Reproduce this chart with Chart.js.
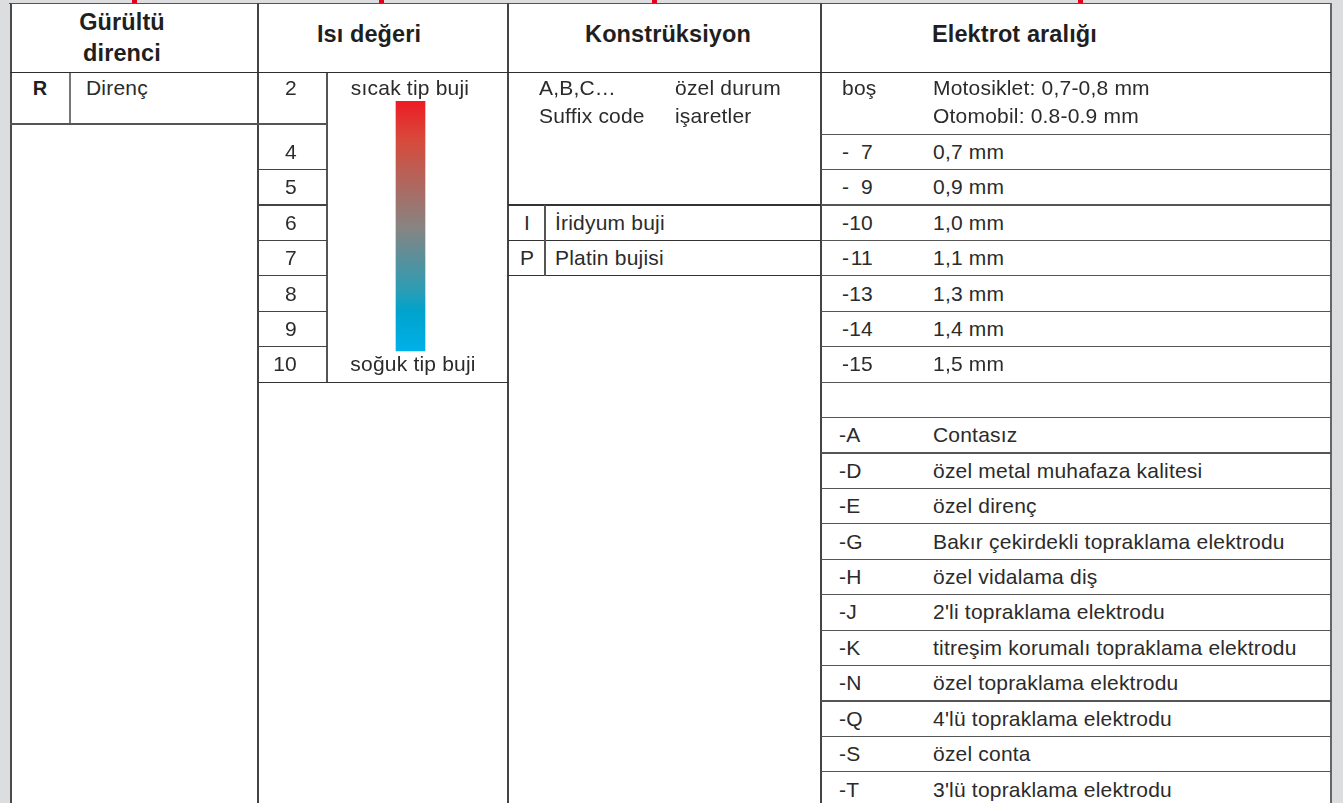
<!DOCTYPE html>
<html lang="tr">
<head>
<meta charset="utf-8">
<title>Buji kodları</title>
<script src="https://cdn.jsdelivr.net/npm/chart.js@4/dist/chart.umd.min.js"></script>
<style>
  html, body { margin: 0; padding: 0; background: #dcdddf; }
  #page { position: relative; width: 1343px; height: 803px; overflow: hidden; background: #dcdddf;
          font-family: "Liberation Sans", Arial, Helvetica, sans-serif; }
  #box { position: absolute; left: 10px; top: 3px; width: 1322px; height: 900px; background: #ffffff; }
  .ln { position: absolute; background: #3a3a3a; }
  .tx { position: absolute; white-space: nowrap; font-size: 21px; letter-spacing: 0.2px; color: #2b2b2b; line-height: 24px; height: 24px; }
  .hd { font-weight: bold; font-size: 23.5px; color: #1f1f1f; letter-spacing: 0.1px; line-height: 28px; height: 28px; }
  .tick { position: absolute; top: 0; width: 5px; height: 3px; background: #e3001b; }
  #heatWrap { position: absolute; }
</style>
</head>
<body>
<div id="page">
  <div id="box"></div>
  <div id="heatWrap"><canvas id="heatChart"></canvas></div>
</div>
<script>
// ---------------- data ----------------
const headers = ["Gürültü\ndirenci", "Isı değeri", "Konstrüksiyon", "Elektrot aralığı"];
const noiseCodes = ["R"];
const noiseLabels = ["Direnç"];
const heatValues = ["2", "4", "5", "6", "7", "8", "9", "10"];
const heatHotLabel = "sıcak tip buji";
const heatColdLabel = "soğuk tip buji";
const heatBarRange = [2.56, 9.6];           // gradient bar: hot (top) -> cold (bottom)
const suffixLeft = ["A,B,C…", "Suffix code"];
const suffixRight = ["özel durum", "işaretler"];
const constructionCodes = ["I", "P"];
const constructionLabels = ["İridyum buji", "Platin bujisi"];
const gapDefaultCode = "boş";
const gapDefaultLabels = ["Motosiklet: 0,7-0,8 mm", "Otomobil: 0.8-0.9 mm"];
const gapCodes = ["- 7", "- 9", "-10", "-11", "-13", "-14", "-15"];
const gapLabels = ["0,7 mm", "0,9 mm", "1,0 mm", "1,1 mm", "1,3 mm", "1,4 mm", "1,5 mm"];
const extraCodes = ["-A", "-D", "-E", "-G", "-H", "-J", "-K", "-N", "-Q", "-S", "-T"];
const extraLabels = ["Contasız", "özel metal muhafaza kalitesi", "özel direnç",
  "Bakır çekirdekli topraklama elektrodu", "özel vidalama diş", "2'li topraklama elektrodu",
  "titreşim korumalı topraklama elektrodu", "özel topraklama elektrodu",
  "4'lü topraklama elektrodu", "özel conta", "3'lü topraklama elektrodu"];

// ---------------- layout ----------------
const page = document.getElementById('page');
const U = 35.42, BASE = 81.1;            // row unit & centre of row index 2
const Y = v => BASE + (v - 2) * U;
const HEAD_B = 72.5, ROW1_B = 124, BOTTOM = 803;
const X = { L: 10, rDiv: 70, c1: 258, hDiv: 327, c2: 508, kDiv: 545, c3: 821, R: 1331 };

function hline(x1, x2, y, th, col) {
  const d = document.createElement('div'); d.className = 'ln';
  d.style.left = x1 + 'px'; d.style.width = (x2 - x1) + 'px';
  d.style.top = (y - (th || 1) / 2) + 'px'; d.style.height = (th || 1) + 'px';
  if (col) d.style.background = col;
  page.appendChild(d);
}
function vline(x, y1, y2, th, col) {
  const d = document.createElement('div'); d.className = 'ln';
  d.style.left = (x - (th || 1.5) / 2) + 'px'; d.style.width = (th || 1.5) + 'px';
  d.style.top = y1 + 'px'; d.style.height = (y2 - y1) + 'px';
  if (col) d.style.background = col;
  page.appendChild(d);
}
function text(str, x, y, align, cls) {
  const d = document.createElement('div');
  d.className = 'tx' + (cls ? ' ' + cls : '');
  d.textContent = str;
  const lh = cls === 'hd' ? 28 : 24;
  d.style.top = (y - lh / 2) + 'px';
  if (align === 'center') { d.style.left = x + 'px'; d.style.transform = 'translateX(-50%)'; }
  else if (align === 'right') { d.style.right = (1343 - x) + 'px'; }
  else { d.style.left = x + 'px'; }
  page.appendChild(d);
}

// outer frame
hline(X.L - 1, X.R + 1, 3.5, 1.5, '#555');
vline(X.L + 0.5, 3, BOTTOM, 2, '#4a4a4a');
vline(X.R, 3, BOTTOM, 2, '#666');
// column separators
[X.c1, X.c2, X.c3].forEach(x => vline(x, 3, BOTTOM, 1.6, '#444'));
hline(X.L, X.R, HEAD_B, 1.5, '#2e2e2e');

// red marks on top
[132, 379, 652, 1078].forEach(x => { const t = document.createElement('div'); t.className = 'tick'; t.style.left = x + 'px'; page.appendChild(t); });

// headers
const hParts = headers[0].split('\n');
text(hParts[0], 122, 22, 'center', 'hd');
text(hParts[1], 122, 53, 'center', 'hd');
text(headers[1], 369, 34, 'center', 'hd');
text(headers[2], 668, 34, 'center', 'hd');
text(headers[3], 932, 34, 'left', 'hd');

// column 1 : noise suppression
vline(X.rDiv, HEAD_B, ROW1_B, 1.5, '#777');
hline(X.L, X.c1, ROW1_B, 1.2, '#555');
noiseCodes.forEach((c, i) => {
  text(c, 40, 88, 'center', 'hd');
  text(noiseLabels[i], 86, 88, 'left');
});
document.querySelectorAll('.hd').forEach(el => { if (el.textContent === 'R') { el.style.fontSize = '20px'; } });

// column 2 : heat value
vline(X.hDiv, HEAD_B, Y(10.5), 1.5, '#555');
hline(X.c1, X.hDiv, ROW1_B, 1.2, '#555');
heatValues.forEach((v, i) => {
  const n = +v;
  const yc = i === 0 ? 88 : Y(n);
  text(v, 297, yc, 'right');
  if (i > 0 && n < 10) hline(X.c1, X.hDiv, Y(n + 0.5), 1.2, '#444');
});
hline(X.c1, X.c2, Y(10.5), 1.2, '#333');
text(heatHotLabel, 410, 88, 'center');
text(heatColdLabel, 413, Y(10), 'center');

// column 3 : construction
text(suffixLeft[0], 539, 88, 'left');
text(suffixLeft[1], 539, 116, 'left');
text(suffixRight[0], 675, 88, 'left');
text(suffixRight[1], 675, 116, 'left');
hline(X.c2, X.c3, Y(5.5), 1.2, '#333');
constructionCodes.forEach((c, i) => {
  const v = 6 + i;
  text(c, 527, Y(v), 'center');
  text(constructionLabels[i], 555, Y(v), 'left');
  hline(X.c2, X.c3, Y(v + 0.5), 1.2, '#333');
});
vline(X.kDiv, Y(5.5), Y(7.5), 1.5, '#555');

// column 4 : electrode gap
text(gapDefaultCode, 842, 88, 'left');
text(gapDefaultLabels[0], 933, 88, 'left');
text(gapDefaultLabels[1], 933, 116, 'left');
hline(X.c3, X.R, Y(3.5), 1.2, '#555');
gapCodes.forEach((c, i) => {
  const v = 4 + i;
  const num = c.replace('-', '').trim();
  text('-', 842, Y(v), 'left');
  text(num, 873, Y(v), 'right');
  text(gapLabels[i], 933, Y(v), 'left');
  hline(X.c3, X.R, Y(v + 0.5), 1.2, '#555');
});
hline(X.c3, X.R, Y(11.5), 1.2, '#555');
extraCodes.forEach((c, i) => {
  const v = 12 + i;
  text(c, 839, Y(v), 'left');
  text(extraLabels[i], 933, Y(v), 'left');
  hline(X.c3, X.R, Y(v + 0.5), 1.2, '#555');
});

// ---------------- Chart.js : heat range gradient bar ----------------
const wrap = document.getElementById('heatWrap');
const chartTop = HEAD_B, chartBottom = Y(10.5);
wrap.style.left = X.hDiv + 'px';
wrap.style.top = chartTop + 'px';
wrap.style.width = '167px';
wrap.style.height = (chartBottom - chartTop) + 'px';
const yMin = 2 + (chartTop - BASE) / U, yMax = 2 + (chartBottom - BASE) / U;

function heatGradient(ctx) {
  const chart = ctx.chart;
  const ys = chart.scales && chart.scales.y;
  if (!chart.chartArea || !ys) return '#888';
  const y0 = ys.getPixelForValue(heatBarRange[0]);
  const y1 = ys.getPixelForValue(heatBarRange[1]);
  const g = chart.ctx.createLinearGradient(0, y0, 0, y1);
  g.addColorStop(0.00, '#ec1c24');
  g.addColorStop(0.15, '#d8493a');
  g.addColorStop(0.50, '#898381');
  g.addColorStop(0.76, '#2b9db5');
  g.addColorStop(0.84, '#00a3cc');
  g.addColorStop(1.00, '#00b0e8');
  return g;
}

new Chart(document.getElementById('heatChart'), {
  type: 'bar',
  data: {
    labels: [headers[1]],
    datasets: [{
      data: [heatBarRange],
      backgroundColor: heatGradient,
      borderWidth: 0,
      barThickness: 29
    }]
  },
  options: {
    responsive: true,
    maintainAspectRatio: false,
    animation: false,
    layout: { padding: 0 },
    plugins: { legend: { display: false }, tooltip: { enabled: false } },
    scales: {
      x: { display: false },
      y: { display: false, reverse: true, min: yMin, max: yMax }
    }
  }
});
</script>
</body>
</html>
